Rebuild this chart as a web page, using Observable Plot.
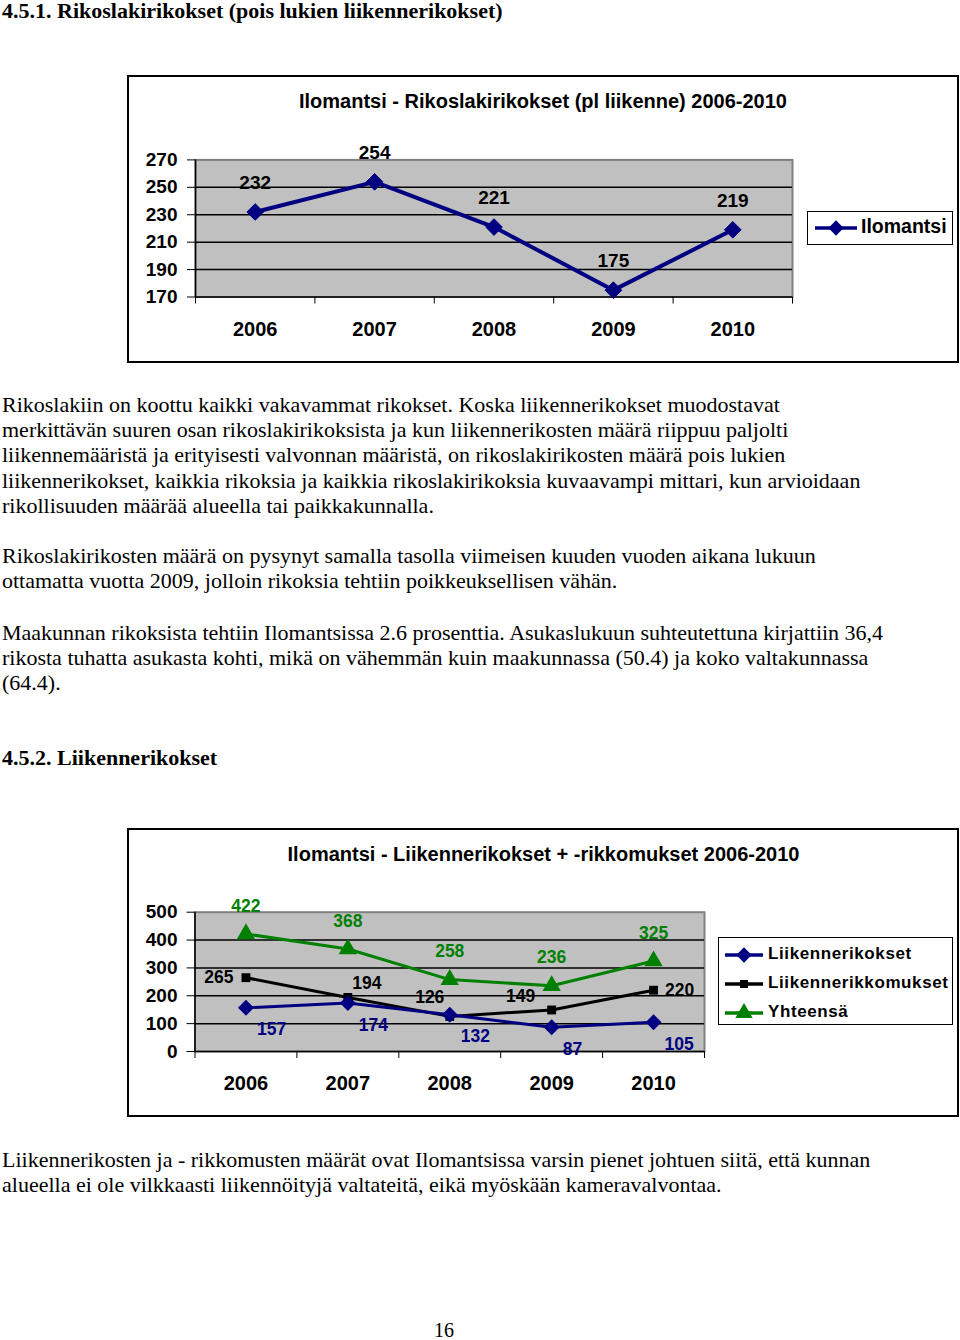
<!DOCTYPE html>
<html>
<head>
<meta charset="utf-8">
<script src="https://cdn.jsdelivr.net/npm/d3@7"></script>
<script src="https://cdn.jsdelivr.net/npm/@observablehq/plot@0.6"></script>
<style>
  html, body { margin: 0; padding: 0; background: #fff; }
  body { width: 960px; height: 1340px; position: relative; overflow: hidden; }
  .abs { position: absolute; }
  .serif { font-family: "Liberation Serif", "Times New Roman", serif; font-size: 22px; line-height: 25.2px; color: #000; white-space: nowrap; }
  .bold { font-weight: bold; }
  .box { position: absolute; border: 2px solid #000; box-sizing: border-box; }
  .ctitle { position: absolute; font-family: "Liberation Sans", Arial, sans-serif; font-weight: bold; font-size: 20px; text-align: center; width: 700px; white-space: nowrap; line-height: 24px; }
  .legend { position: absolute; border: 1.5px solid #000; box-sizing: border-box; background: #fff; font-family: "Liberation Sans", Arial, sans-serif; font-weight: bold; }
  .legrow { position: absolute; white-space: nowrap; }
  .legrow svg { position: absolute; left: 0; top: 0; overflow: visible; }
  .legrow span { position: absolute; }
  .chart { position: absolute; left: 0; width: 960px; }
</style>
</head>
<body>
<script>
// ---- data ----
const years = [2006, 2007, 2008, 2009, 2010];
const rikoslakirikokset = [232, 254, 221, 175, 219];
const liikennerikokset = [157, 174, 132, 87, 105];
const liikennerikkomukset = [265, 194, 126, 149, 220];
const yhteensa = [422, 368, 258, 236, 325];
const yTicks1 = [170, 190, 210, 230, 250, 270];
const yTicks2 = [0, 100, 200, 300, 400, 500];
const seriesNames2 = ["Liikennerikokset", "Liikennerikkomukset", "Yhteensä"];
const title1 = "Ilomantsi - Rikoslakirikokset (pl liikenne) 2006-2010";
const title2 = "Ilomantsi - Liikennerikokset + -rikkomukset 2006-2010";
const legend1 = "Ilomantsi";
</script>

<div class="abs serif bold" style="left:2px; top:0px; line-height:22px;">4.5.1. Rikoslakirikokset (pois lukien liikennerikokset)</div>

<div class="box" style="left:127px; top:75px; width:832px; height:288px;"></div>
<div id="chart1" class="chart" style="top:76px;"></div>
<div id="title1" class="ctitle" style="left:193px; top:89px;"></div>
<div id="legend1" class="legend" style="left:807px; top:210.5px; width:146px; height:34px;"></div>

<div class="abs serif" style="left:2px; top:392px;">Rikoslakiin on koottu kaikki vakavammat rikokset. Koska liikennerikokset muodostavat<br>merkittävän suuren osan rikoslakirikoksista ja kun liikennerikosten määrä riippuu paljolti<br>liikennemääristä ja erityisesti valvonnan määristä, on rikoslakirikosten määrä pois lukien<br>liikennerikokset, kaikkia rikoksia ja kaikkia rikoslakirikoksia kuvaavampi mittari, kun arvioidaan<br>rikollisuuden määrää alueella tai paikkakunnalla.</div>

<div class="abs serif" style="left:2px; top:543px;">Rikoslakirikosten määrä on pysynyt samalla tasolla viimeisen kuuden vuoden aikana lukuun<br>ottamatta vuotta 2009, jolloin rikoksia tehtiin poikkeuksellisen vähän.</div>

<div class="abs serif" style="left:2px; top:619.5px;">Maakunnan rikoksista tehtiin Ilomantsissa 2.6 prosenttia. Asukaslukuun suhteutettuna kirjattiin 36,4<br>rikosta tuhatta asukasta kohti, mikä on vähemmän kuin maakunnassa (50.4) ja koko valtakunnassa<br>(64.4).</div>

<div class="abs serif bold" style="left:2px; top:745px;">4.5.2. Liikennerikokset</div>

<div class="box" style="left:127px; top:828px; width:832px; height:289px;"></div>
<div id="chart2" class="chart" style="top:829px;"></div>
<div id="title2" class="ctitle" style="left:193.5px; top:842px;"></div>
<div id="legend2" class="legend" style="left:718px; top:937px; width:235px; height:88px;"></div>

<div class="abs serif" style="left:2px; top:1147px;">Liikennerikosten ja - rikkomusten määrät ovat Ilomantsissa varsin pienet johtuen siitä, että kunnan<br>alueella ei ole vilkkaasti liikennöityjä valtateitä, eikä myöskään kameravalvontaa.</div>

<div class="abs" style="left:434px; top:1320px; font-family:'Liberation Serif','Times New Roman',serif; font-size:20px; line-height:20px;">16</div>

<script>
const NAVY = "#000080", GREEN = "#008000", BLACK = "#000000", GRAY = "#c0c0c0";
const sansStyle = {
  fontFamily: "'Liberation Sans', Arial, sans-serif",
  fontWeight: "bold",
  background: "transparent",
  overflow: "visible",
  color: "#000"
};
const bounds = [years[0] - 0.5, ...years.map(y => y + 0.5)];

// ---------- Chart 1 ----------
const data1 = years.map((year, i) => ({year, value: rikoslakirikokset[i]}));
const chart1 = Plot.plot({
  width: 960, height: 286,
  marginLeft: 195, marginRight: 168, marginTop: 83.4, marginBottom: 65.5,
  x: {type: "linear", domain: [bounds[0], bounds[bounds.length - 1]], label: null, axis: null},
  y: {domain: [yTicks1[0], yTicks1[yTicks1.length - 1]], label: null, axis: null},
  style: sansStyle,
  marks: [
    Plot.frame({fill: GRAY, stroke: "#808080", strokeWidth: 2}),
    Plot.ruleY(yTicks1.slice(1, -1), {stroke: BLACK, strokeWidth: 1.5}),
    Plot.ruleY([yTicks1[0]], {stroke: BLACK, strokeWidth: 1.5}),
    Plot.ruleX([bounds[0]], {stroke: BLACK, strokeWidth: 1.5}),
    Plot.axisY({ticks: yTicks1, tickSize: 8, tickPadding: 10, fontSize: 19, label: null, tickFormat: d => String(d)}),
    Plot.axisX({ticks: bounds, tickSize: 7, tickFormat: () => "", label: null}),
    Plot.axisX({ticks: years, tickSize: 0, tickPadding: 25, fontSize: 20, label: null, tickFormat: d => String(d)}),
    Plot.line(data1, {x: "year", y: "value", stroke: NAVY, strokeWidth: 4}),
    Plot.dot(data1, {x: "year", y: "value", symbol: "diamond2", fill: NAVY, stroke: NAVY, strokeWidth: 1, r: 7.5}),
    Plot.text(data1, {x: "year", y: "value", text: d => String(d.value), dy: -29, fontSize: 19, fontWeight: "bold", fill: BLACK})
  ]
});
document.getElementById("chart1").append(chart1);
document.getElementById("title1").textContent = title1;

function legendRow(container, {top, lineX1, lineX2, textX, fontSize, letterSpacing, color, symbol, name}) {
  const row = document.createElement("div");
  row.className = "legrow";
  row.style.left = "0px"; row.style.top = top + "px";
  const ns = "http://www.w3.org/2000/svg";
  const svg = document.createElementNS(ns, "svg");
  svg.setAttribute("width", "1"); svg.setAttribute("height", "1");
  const line = document.createElementNS(ns, "line");
  line.setAttribute("x1", lineX1); line.setAttribute("x2", lineX2);
  line.setAttribute("y1", 0); line.setAttribute("y2", 0);
  line.setAttribute("stroke", color); line.setAttribute("stroke-width", 3.5);
  svg.appendChild(line);
  const path = document.createElementNS(ns, "path");
  const cx = (lineX1 + lineX2) / 2;
  const sym = symbol === "diamond" ? d3.symbolDiamond2 : symbol === "square" ? d3.symbolSquare : d3.symbolTriangle;
  const size = symbol === "diamond" ? 150 : symbol === "square" ? 64 : 130;
  path.setAttribute("d", d3.symbol(sym, size)());
  path.setAttribute("transform", `translate(${cx},0)`);
  path.setAttribute("fill", color);
  svg.appendChild(path);
  row.appendChild(svg);
  const span = document.createElement("span");
  span.textContent = name;
  span.style.left = textX + "px";
  span.style.top = (-fontSize * 0.62) + "px";
  span.style.fontSize = fontSize + "px";
  span.style.lineHeight = (fontSize * 1.2) + "px";
  span.style.letterSpacing = letterSpacing + "px";
  row.appendChild(span);
  container.appendChild(row);
}
legendRow(document.getElementById("legend1"), {
  top: 16, lineX1: 7, lineX2: 49, textX: 53, fontSize: 19.5, letterSpacing: 0, color: NAVY, symbol: "diamond", name: legend1
});

// ---------- Chart 2 ----------
const data2 = [];
years.forEach((year, i) => {
  data2.push({year, series: seriesNames2[0], value: liikennerikokset[i], idx: i});
  data2.push({year, series: seriesNames2[1], value: liikennerikkomukset[i], idx: i});
  data2.push({year, series: seriesNames2[2], value: yhteensa[i], idx: i});
});
const s0 = data2.filter(d => d.series === seriesNames2[0]);
const s1 = data2.filter(d => d.series === seriesNames2[1]);
const s2 = data2.filter(d => d.series === seriesNames2[2]);
// label placement offsets for the black series (as placed in the original)
const blackDx = [-27, 19, -20, -31, 26];
const blackDy = [0, -14, -19, -14, 0];

const chart2 = Plot.plot({
  width: 960, height: 287,
  marginLeft: 194.5, marginRight: 256, marginTop: 82.7, marginBottom: 65,
  x: {type: "linear", domain: [bounds[0], bounds[bounds.length - 1]], label: null, axis: null},
  y: {domain: [yTicks2[0], yTicks2[yTicks2.length - 1]], label: null, axis: null},
  style: sansStyle,
  marks: [
    Plot.frame({fill: GRAY, stroke: "#808080", strokeWidth: 2}),
    Plot.ruleY(yTicks2.slice(1, -1), {stroke: BLACK, strokeWidth: 1.5}),
    Plot.ruleY([yTicks2[0]], {stroke: BLACK, strokeWidth: 1.5}),
    Plot.ruleX([bounds[0]], {stroke: BLACK, strokeWidth: 1.5}),
    Plot.axisY({ticks: yTicks2, tickSize: 8, tickPadding: 9.5, fontSize: 19, label: null, tickFormat: d => String(d)}),
    Plot.axisX({ticks: bounds, tickSize: 7, tickFormat: () => "", label: null}),
    Plot.axisX({ticks: years, tickSize: 0, tickPadding: 24, fontSize: 20, label: null, tickFormat: d => String(d)}),
    Plot.line(s2, {x: "year", y: "value", stroke: GREEN, strokeWidth: 3}),
    Plot.line(s1, {x: "year", y: "value", stroke: BLACK, strokeWidth: 3}),
    Plot.line(s0, {x: "year", y: "value", stroke: NAVY, strokeWidth: 3}),
    Plot.dot(s2, {x: "year", y: "value", symbol: "triangle", fill: GREEN, r: 6.8}),
    Plot.dot(s1, {x: "year", y: "value", symbol: "square", fill: BLACK, r: 5}),
    Plot.dot(s0, {x: "year", y: "value", symbol: "diamond2", fill: NAVY, stroke: NAVY, r: 6.2}),
    Plot.text(s2, {x: "year", y: "value", text: d => String(d.value), dy: -28, fontSize: 17.5, fontWeight: "bold", fill: GREEN}),
    Plot.text(s0, {x: "year", y: "value", text: d => String(d.value), dx: 11, dy: 22, textAnchor: "start", fontSize: 17.5, fontWeight: "bold", fill: NAVY}),
    ...s1.map(d => Plot.text([d], {x: "year", y: "value", text: d => String(d.value), dx: blackDx[d.idx], dy: blackDy[d.idx], fontSize: 17.5, fontWeight: "bold", fill: BLACK}))
  ]
});
document.getElementById("chart2").append(chart2);
document.getElementById("title2").textContent = title2;

const leg2 = document.getElementById("legend2");
const colors2 = [NAVY, BLACK, GREEN];
const symbols2 = ["diamond", "square", "triangle"];
seriesNames2.forEach((name, i) => {
  legendRow(leg2, {top: 17, lineX1: 6, lineX2: 44, textX: 49, fontSize: 17, letterSpacing: 0.6, color: colors2[i], symbol: symbols2[i], name});
  leg2.lastChild.style.top = (17 + i * 29) + "px";
});
</script>
</body>
</html>
